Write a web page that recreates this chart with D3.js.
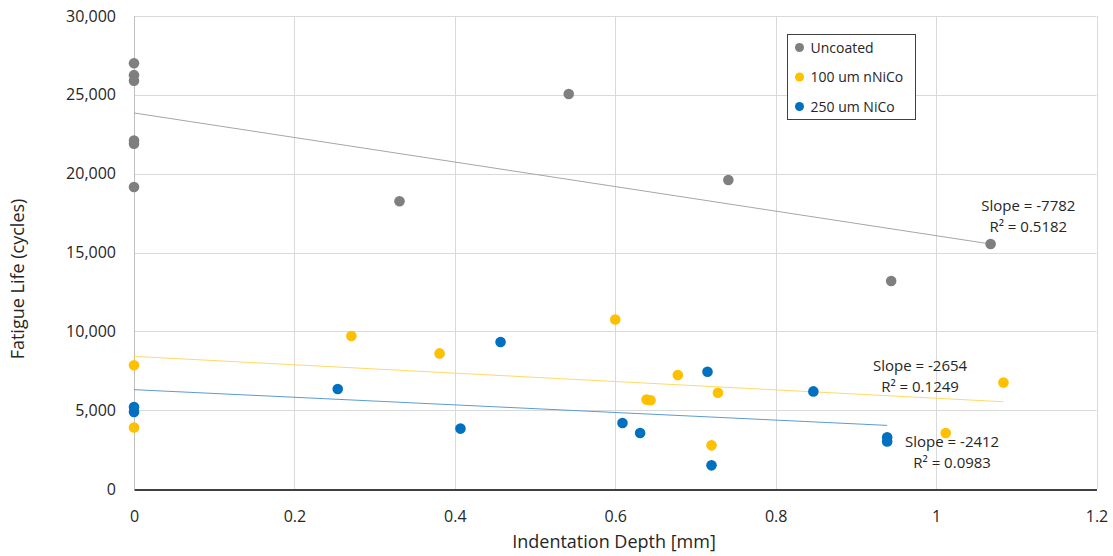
<!DOCTYPE html>
<html>
<head>
<meta charset="utf-8">
<script src="https://cdn.jsdelivr.net/npm/d3@7"></script>
<style>
  body { margin: 0; background: #fff; }
  svg text { font-family: "Open Sans", sans-serif; fill: #262626; }
  .grid line { stroke: #d9d9d9; stroke-width: 1; }
</style>
</head>
<body>
<div id="chart"></div>
<script>
// chart size
const width = 1113;
const height = 556;
const margin = { top: 16, right: 16, bottom: 67, left: 134 };

// data
const seriesNames = ["Uncoated", "100 um nNiCo", "250 um NiCo"];
const seriesColors = ["#7f7f7f", "#ffc000", "#0070c0"];
const trendColors = ["#a6a6a6", "#ffd966", "#5b9bd5"];

const uncoatedDepth = [0, 0, 0, 0, 0, 0, 0.331, 0.542, 0.741, 0.944, 1.068];
const uncoatedLife = [27000, 26250, 25900, 22100, 21900, 19150, 18250, 25050, 19600, 13190, 15540];

const nNiCoDepth = [0, 0, 0.271, 0.381, 0.600, 0.639, 0.644, 0.678, 0.720, 0.728, 1.012, 1.084];
const nNiCoLife = [7850, 3900, 9700, 8600, 10750, 5670, 5630, 7230, 2770, 6100, 3550, 6750];

const niCoDepth = [0, 0, 0.254, 0.407, 0.457, 0.609, 0.631, 0.715, 0.720, 0.847, 0.939, 0.939];
const niCoLife = [5200, 4880, 6340, 3830, 9320, 4190, 3550, 7440, 1500, 6190, 3280, 3020];

// linear trend lines (intercept, slope from the labels)
const trendIntercept = [23850, 8410, 6300];
const trendSlope = [-7782, -2654, -2412];
const trendLabels = [["Slope = -7782", "R\u00b2 = 0.5182"],
                     ["Slope = -2654", "R\u00b2 = 0.1249"],
                     ["Slope = -2412", "R\u00b2 = 0.0983"]];
const labelAt = [[1.115, 17650], [0.98, 7500], [1.02, 2640]]; // data coords of first label line

const xTicks = [0, 0.2, 0.4, 0.6, 0.8, 1, 1.2];
const yTicks = [0, 5000, 10000, 15000, 20000, 25000, 30000];

const series = [
  { name: seriesNames[0], depth: uncoatedDepth, life: uncoatedLife },
  { name: seriesNames[1], depth: nNiCoDepth, life: nNiCoLife },
  { name: seriesNames[2], depth: niCoDepth, life: niCoLife }
];

const svg = d3.select("#chart")
    .append("svg")
    .attr("width", width)
    .attr("height", height);

const x = d3.scaleLinear().domain([0, 1.2]).range([margin.left, width - margin.right - 0.5]);
const y = d3.scaleLinear().domain([0, 30000]).range([height - margin.bottom, margin.top]);

// gridlines
const grid = svg.append("g").attr("class", "grid");
grid.selectAll("line.h")
    .data(yTicks.filter(d => d > 0))
    .enter().append("line")
    .attr("x1", x(0)).attr("x2", x(1.2))
    .attr("y1", d => Math.round(y(d)) + 0.5).attr("y2", d => Math.round(y(d)) + 0.5);
grid.selectAll("line.v")
    .data(xTicks.filter(d => d > 0))
    .enter().append("line")
    .attr("y1", y(0)).attr("y2", y(30000))
    .attr("x1", d => Math.round(x(d)) + 0.5).attr("x2", d => Math.round(x(d)) + 0.5);

// y axis line
svg.append("line")
    .attr("x1", x(0) + 0.5).attr("x2", x(0) + 0.5)
    .attr("y1", y(0)).attr("y2", y(30000))
    .attr("stroke", "#bfbfbf");

// x axis
const xAxis = svg.append("g")
    .attr("transform", `translate(0,${Math.round(y(0)) + 0.5})`)
    .call(d3.axisBottom(x).tickValues(xTicks).tickSize(0).tickPadding(21)
        .tickFormat(d => d3.format("")(d)));
xAxis.select(".domain").attr("stroke", "#000").attr("stroke-width", 1.5);
xAxis.selectAll("text").attr("font-size", 16).attr("fill", "#262626").attr("font-family", "Open Sans");

// y axis labels
const yAxis = svg.append("g")
    .attr("transform", `translate(${x(0)},0)`)
    .call(d3.axisLeft(y).tickValues(yTicks).tickSize(0).tickPadding(18)
        .tickFormat(d3.format(",")));
yAxis.select(".domain").remove();
yAxis.selectAll("text").attr("font-size", 16).attr("fill", "#262626").attr("font-family", "Open Sans");

// axis titles
svg.append("text")
    .attr("x", 614).attr("y", 548)
    .attr("text-anchor", "middle")
    .attr("font-size", 18)
    .text("Indentation Depth [mm]");
svg.append("text")
    .attr("transform", "translate(24,279) rotate(-90)")
    .attr("text-anchor", "middle")
    .attr("font-size", 18)
    .text("Fatigue Life (cycles)");

// trend lines
series.forEach((s, i) => {
    const xEnd = d3.max(s.depth);
    svg.append("line")
        .attr("x1", x(0)).attr("y1", y(trendIntercept[i]))
        .attr("x2", x(xEnd)).attr("y2", y(trendIntercept[i] + trendSlope[i] * xEnd))
        .attr("stroke", trendColors[i])
        .attr("stroke-width", 1);
});

// points
series.forEach((s, i) => {
    svg.append("g")
        .selectAll("circle")
        .data(s.depth.map((d, k) => [d, s.life[k]]))
        .enter().append("circle")
        .attr("cx", d => x(d[0]))
        .attr("cy", d => y(d[1]))
        .attr("r", 5.3)
        .attr("fill", seriesColors[i]);
});

// trend labels
trendLabels.forEach((lines, i) => {
    const t = svg.append("text")
        .attr("text-anchor", "middle")
        .attr("font-size", 15)
        .attr("x", x(labelAt[i][0]))
        .attr("y", y(labelAt[i][1]));
    lines.forEach((l, k) => {
        t.append("tspan")
            .attr("x", x(labelAt[i][0]))
            .attr("dy", k === 0 ? 0 : 21)
            .text(l);
    });
});

// legend
const legend = svg.append("g").attr("transform", "translate(787.5,34.5)");
legend.append("rect")
    .attr("width", 128).attr("height", 85)
    .attr("fill", "#fff")
    .attr("stroke", "#404040")
    .attr("stroke-width", 1);
seriesNames.forEach((n, i) => {
    const row = legend.append("g").attr("transform", `translate(0,${13 + i * 29.5})`);
    row.append("circle").attr("cx", 12).attr("cy", 0).attr("r", 4.5).attr("fill", seriesColors[i]);
    row.append("text").attr("x", 23).attr("y", 5).attr("font-size", 14).text(n);
});
</script>
</body>
</html>
